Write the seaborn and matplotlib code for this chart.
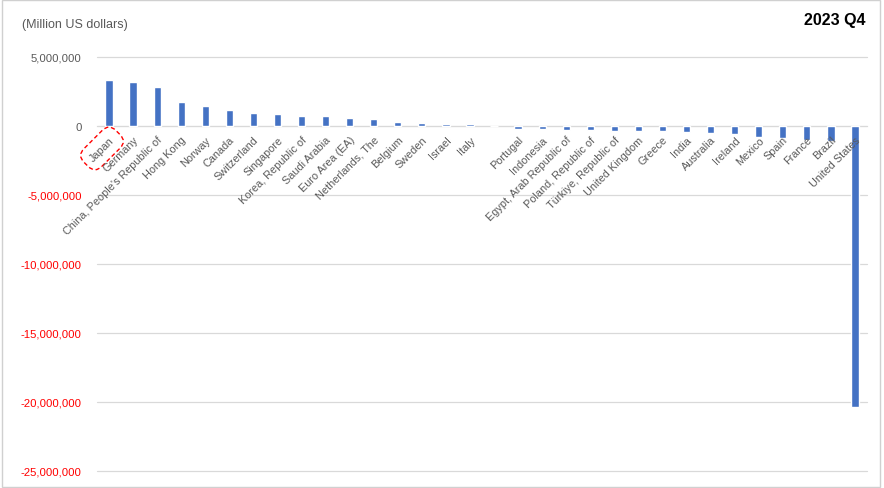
import numpy as np
import pandas as pd
import matplotlib
matplotlib.use("Agg")
import matplotlib.pyplot as plt
import seaborn as sns
from matplotlib.patches import Rectangle
from matplotlib.ticker import FuncFormatter

# Net international investment position, 2023 Q4 (Million US dollars)
countries = ["Japan", "Germany", "China, People's Republic of", "Hong Kong", "Norway",
             "Canada", "Switzerland", "Singapore", "Korea, Republic of", "Saudi Arabia",
             "Euro Area (EA)", "Netherlands, The", "Belgium", "Sweden", "Israel", "Italy",
             " ", "Portugal", "Indonesia", "Egypt, Arab Republic of", "Poland, Republic of",
             "Türkiye, Republic of", "United Kingdom", "Greece", "India", "Australia",
             "Ireland", "Mexico", "Spain", "France", "Brazil", "United States"]
values = [3310000, 3170000, 2830000, 1740000, 1450000,
          1140000, 970000, 850000, 750000, 720000,
          580000, 530000, 310000, 190000, 150000, 150000,
          0, -200000, -240000, -270000, -310000,
          -360000, -360000, -360000, -410000, -530000,
          -600000, -770000, -870000, -1010000, -1090000, -20360000]
y_ticks = [5000000, 0, -5000000, -10000000, -15000000, -20000000, -25000000]

df = pd.DataFrame({"country": countries, "value": values})

sns.set_style("white")
plt.rcParams["font.family"] = ["Liberation Sans", "DejaVu Sans"]

fig = plt.figure(figsize=(8.84, 4.89), dpi=100)
ax = fig.add_axes([97 / 884, 1 - 472 / 489, (867 - 97) / 884, (472 - 58) / 489])

sns.barplot(data=df, x="country", y="value", order=countries, color="#4472C4",
            width=0.3, saturation=1, ax=ax, zorder=2)

ax.set_ylim(-25000000, 5000000)
ax.set_xlim(-0.5, len(countries) - 0.5)
ax.set_yticks(y_ticks)
ax.yaxis.set_major_formatter(FuncFormatter(lambda v, p: f"{int(v):,}"))
ax.grid(axis="y", color="#D9D9D9", lw=0.9, zorder=0)
ax.grid(axis="x", visible=False)
for gl in ax.yaxis.get_gridlines():
    gl.set_clip_on(False)
ax.set_xlabel("")
ax.set_ylabel("")

for s in ["top", "right", "left"]:
    ax.spines[s].set_visible(False)
ax.spines["bottom"].set_position(("data", 0))
ax.spines["bottom"].set_color("#D9D9D9")
ax.spines["bottom"].set_zorder(1)
ax.xaxis.set_zorder(4)

ax.tick_params(axis="y", length=0, pad=11, labelsize=8.2)
ax.tick_params(axis="x", length=0, pad=6, labelsize=7.8)
for lbl, v in zip(ax.get_yticklabels(), y_ticks):
    lbl.set_color("#FF0000" if v < 0 else "#595959")

ax.set_xticks(range(len(countries)))
ax.set_xticklabels(countries, rotation=45, ha="right", rotation_mode="anchor", color="#595959")
japan = ax.get_xticklabels()[0]
japan.set_bbox(dict(boxstyle="round,pad=0.7,rounding_size=0.9", fc="none", ec="#FF0000",
                    ls=(0, (3, 2)), lw=1))

fig.text(22 / 884, 1 - 25 / 489, "(Million US dollars)", fontsize=9, color="#595959",
         va="center", ha="left")
fig.text(866 / 884, 1 - 21 / 489, "2023 Q4", fontsize=11.5, fontweight="bold",
         color="black", va="center", ha="right")

fig.patches.append(Rectangle((0.002, 0.003), 0.994, 0.994, transform=fig.transFigure,
                             fill=False, ec="#D0D0D0", lw=1))

fig.savefig("out.png", dpi=100)
